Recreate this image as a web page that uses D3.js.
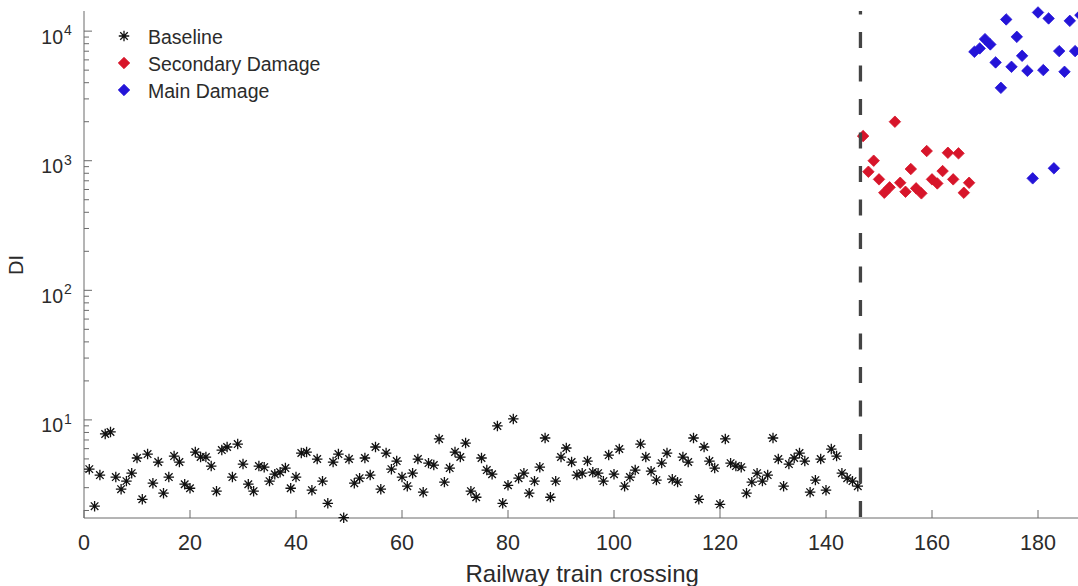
<!DOCTYPE html>
<meta charset="utf-8">
<style>
body{
  margin: 0;
  background: #fff;
  font-family: "Liberation Sans", Arial, Helvetica, sans-serif;
}
svg text{ fill: #2b2b2b; }
</style>
<svg id="chart" width="1078" height="586"></svg>
<script src="https://cdn.jsdelivr.net/npm/d3@7"></script>
<script>

// DI per crossing, crossings 1..146
var baseline = [4.17, 2.16, 3.75, 7.79, 8.07, 3.62, 2.92, 3.37, 3.88, 5.08,
  2.44, 5.45, 3.25, 4.73, 2.72, 3.62, 5.26, 4.73, 3.19, 2.97,
  5.65, 5.17, 5.17, 4.40, 2.82, 5.85, 6.18, 3.62, 6.51, 4.56,
  3.19, 2.82, 4.40, 4.32, 3.37, 3.81, 3.95, 4.25, 2.97, 3.62,
  5.55, 5.65, 2.87, 4.99, 3.37, 2.27, 4.73, 5.45, 1.76, 4.99,
  3.25, 3.55, 5.08, 3.75, 6.18, 2.92, 5.55, 4.17, 4.81, 3.62,
  3.08, 3.88, 4.99, 2.77, 4.64, 4.48, 7.13, 3.31, 4.25, 5.65,
  5.17, 6.63, 2.82, 2.53, 5.08, 4.10, 3.81, 8.98, 2.27, 3.13,
  10.18, 3.55, 3.88, 2.72, 3.37, 4.32, 7.25, 2.53, 3.37, 5.17,
  6.07, 4.73, 3.75, 3.88, 4.81, 3.95, 3.88, 3.37, 5.35, 3.81,
  5.96, 3.08, 3.62, 4.10, 6.51, 5.17, 4.02, 3.43, 4.64, 5.55,
  3.49, 3.31, 5.17, 4.73, 7.25, 2.44, 6.18, 4.81, 4.25, 2.23,
  7.13, 4.64, 4.40, 4.32, 2.72, 3.31, 3.88, 3.37, 3.75, 7.25,
  4.99, 3.08, 4.56, 5.08, 5.55, 4.81, 2.77, 3.43, 4.99, 2.87,
  5.96, 5.26, 3.88, 3.55, 3.37, 3.08]
var baselineStart = 1

// crossings 147..167
var secondary = [1549, 822, 1000, 718, 566, 623, 2000, 676, 576, 863,
  612, 560, 1188, 718, 668, 832, 1152, 718, 1140, 566, 676]
var secondaryStart = 147

// crossings 168..188
var mainDamage = [6925, 7358, 8675, 7897, 5737, 3652, 12310, 5304, 9037, 6452,
  4941, 731, 13937, 5003, 12530, 874, 7010, 4855, 12000, 7010, 13280]
var mainStart = 168

var damageOnset = 146.5
var xTicks = [0, 20, 40, 60, 80, 100, 120, 140, 160, 180]
var yTicks = [10, 100, 1000, 10000]
var yExponents = ['1', '2', '3', '4']
var legendLabels = ['Baseline', 'Secondary Damage', 'Main Damage']

var red = '#d7152a',
    blue = '#2414d8',
    axisColor = '#6a6a6a'

var svg = d3.select('#chart')

var x = d3.scaleLinear().domain([0, 188]).range([84, 1080.4])
var y = d3.scaleLog().domain([1.75, 14300]).range([518, 11])

// marker shapes
var asterisk = {
  draw: function(ctx, size){
    var r = Math.sqrt(size) / 2, a = r * 0.72
    ctx.moveTo(-r, 0); ctx.lineTo(r, 0)
    ctx.moveTo(0, -r); ctx.lineTo(0, r)
    ctx.moveTo(-a, -a); ctx.lineTo(a, a)
    ctx.moveTo(-a, a); ctx.lineTo(a, -a)
  }
}
var diamond = {
  draw: function(ctx, size){
    var r = Math.sqrt(size) / 2
    ctx.moveTo(0, -r); ctx.lineTo(r, 0); ctx.lineTo(0, r); ctx.lineTo(-r, 0); ctx.closePath()
  }
}
var starPath = d3.symbol().type(asterisk).size(110)()
var diaPath = d3.symbol().type(diamond).size(132)()

// axes
var gx = svg.append('g')
gx.append('line')
    .attr('x1', x(0)).attr('x2', x(188))
    .attr('y1', 518).attr('y2', 518)
    .style('stroke', axisColor)
gx.selectAll('.xt').data(xTicks).enter().append('line')
    .attr('x1', d => x(d)).attr('x2', d => x(d))
    .attr('y1', 518).attr('y2', 510)
    .style('stroke', axisColor)
gx.selectAll('.xl').data(xTicks).enter().append('text')
    .attr('x', d => x(d)).attr('y', 550)
    .attr('text-anchor', 'middle')
    .style('font-size', '21.5px')
    .text(d => d)

var gy = svg.append('g')
gy.append('line')
    .attr('x1', 84).attr('x2', 84)
    .attr('y1', 11).attr('y2', 518)
    .style('stroke', axisColor)
var minor = y.ticks().filter(d => yTicks.indexOf(d) < 0)
gy.selectAll('.ym').data(minor).enter().append('line')
    .attr('x1', 84).attr('x2', 89)
    .attr('y1', d => y(d)).attr('y2', d => y(d))
    .style('stroke', axisColor)
gy.selectAll('.yt').data(yTicks).enter().append('line')
    .attr('x1', 84).attr('x2', 92)
    .attr('y1', d => y(d)).attr('y2', d => y(d))
    .style('stroke', axisColor)
gy.selectAll('.yl').data(yTicks).enter().append('text')
    .attr('x', 63).attr('y', d => y(d) + 12.5)
    .attr('text-anchor', 'end')
    .style('font-size', '19.5px')
    .text('10')
gy.selectAll('.ye').data(yTicks).enter().append('text')
    .attr('x', 64).attr('y', d => y(d) + 4)
    .style('font-size', '14px')
    .text((d, i) => yExponents[i])

svg.append('text')
    .attr('transform', 'translate(23,265) rotate(-90)')
    .attr('text-anchor', 'middle')
    .style('font-size', '20px')
    .text('DI')

svg.append('text')
    .attr('x', (x(0) + x(188)) / 2).attr('y', 582)
    .attr('text-anchor', 'middle')
    .style('font-size', '24px')
    .text('Railway train crossing')

// points
svg.append('g').selectAll('path').data(baseline).enter().append('path')
    .attr('d', starPath)
    .attr('transform', (d, i) => 'translate(' + x(baselineStart + i) + ',' + y(d) + ')')
    .style('fill', 'none').style('stroke', '#111').style('stroke-width', 1.3)

svg.append('g').selectAll('path').data(secondary).enter().append('path')
    .attr('d', diaPath)
    .attr('transform', (d, i) => 'translate(' + x(secondaryStart + i) + ',' + y(d) + ')')
    .style('fill', red).style('stroke', red).style('stroke-width', 0.8)

svg.append('g').selectAll('path').data(mainDamage).enter().append('path')
    .attr('d', diaPath)
    .attr('transform', (d, i) => 'translate(' + x(mainStart + i) + ',' + y(d) + ')')
    .style('fill', blue).style('stroke', blue).style('stroke-width', 0.8)

// damage onset
svg.append('line')
    .attr('x1', x(damageOnset)).attr('x2', x(damageOnset))
    .attr('y1', y.range()[1]).attr('y2', y.range()[0])
    .style('stroke', '#444').style('stroke-width', 3.3)
    .style('stroke-dasharray', '16,17.5').style('stroke-dashoffset', 12.5)

// legend
var legend = svg.append('g')
var rows = legend.selectAll('g').data(legendLabels).enter().append('g')
    .attr('transform', (d, i) => 'translate(0,' + (36 + i * 27) + ')')
rows.append('path')
    .attr('transform', 'translate(124,0)')
    .attr('d', (d, i) => i === 0 ? starPath : diaPath)
    .style('fill', (d, i) => i === 0 ? 'none' : (i === 1 ? red : blue))
    .style('stroke', (d, i) => i === 0 ? '#111' : (i === 1 ? red : blue))
    .style('stroke-width', (d, i) => i === 0 ? 1.3 : 0.8)
rows.append('text')
    .attr('x', 148).attr('y', 7.5)
    .style('font-size', '19.5px')
    .text(d => d)

</script>
